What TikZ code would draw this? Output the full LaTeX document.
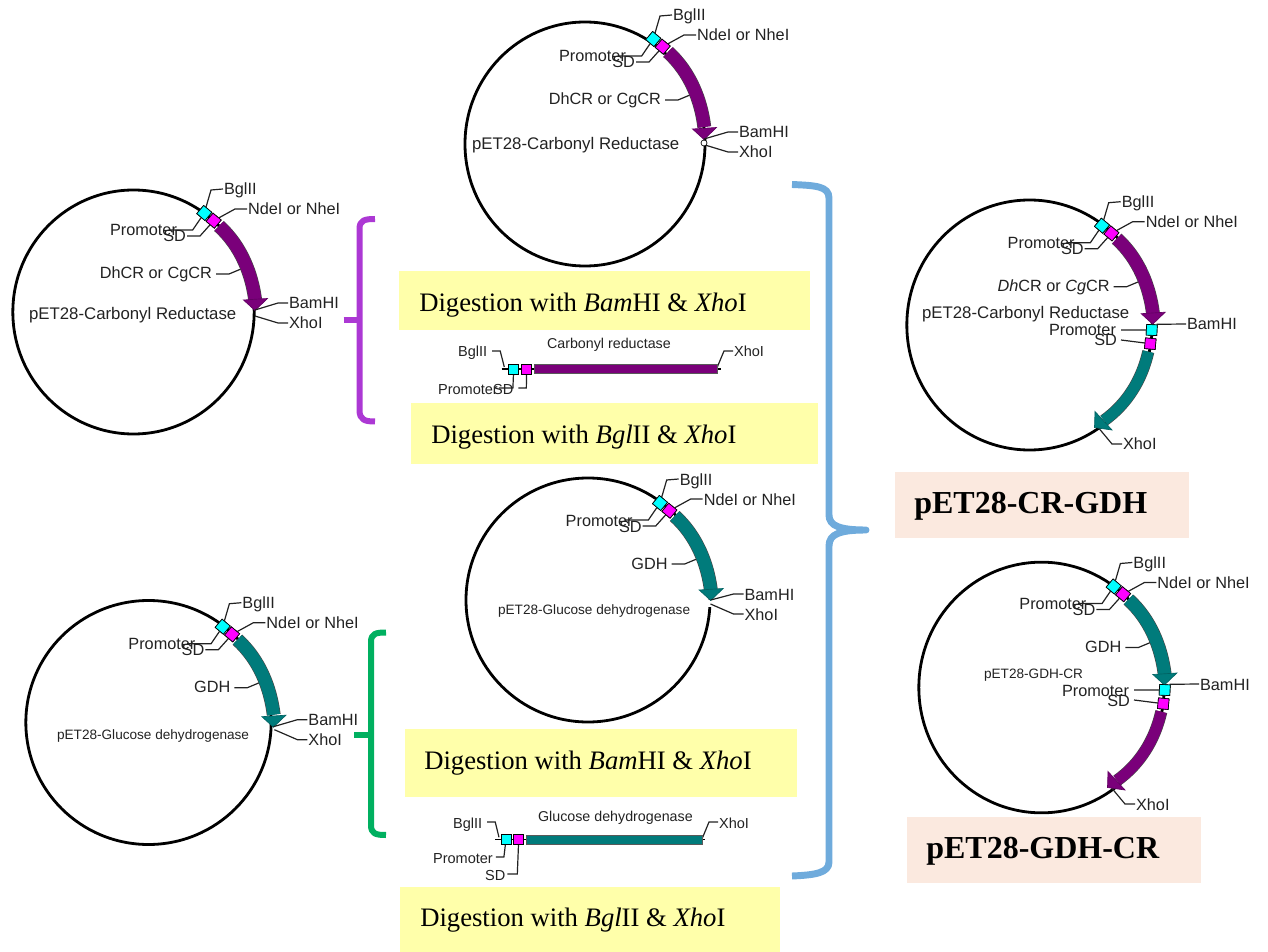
\documentclass[tikz,border=0pt]{standalone}
\usepackage{fontspec}
\usetikzlibrary{shapes.geometric}
\setmainfont{Liberation Sans}
\newfontfamily\tnr{Liberation Serif}
\definecolor{cpurple}{HTML}{7A007A}
\definecolor{cteal}{HTML}{007B7B}
\definecolor{cyellow}{HTML}{FFFFAA}
\definecolor{cpeach}{HTML}{FBE9DF}
\definecolor{cblue}{HTML}{6FABDC}
\definecolor{cviolet}{HTML}{AC38D4}
\definecolor{cgreen}{HTML}{00B060}
\definecolor{ink}{HTML}{222222}
\definecolor{sqcyan}{HTML}{00FFFF}
\definecolor{sqmag}{HTML}{FF00FF}
\tikzset{
  ring/.style={ellipse,draw=black,line width=2.1pt,inner sep=0pt},
  lead/.style={draw=ink,line width=0.9pt},
  lab/.style={inner sep=0.6pt,text=ink,text height=9pt,text depth=0pt,font=\fontsize{12.2}{14}\selectfont},
  labw/.style={lab,anchor=west},
  labe/.style={lab,anchor=east},
  namelab/.style={lab,anchor=west,font=\fontsize{12.6}{14}\selectfont},
  smalllab/.style={lab,anchor=west,font=\fontsize{10.2}{12}\selectfont},
  striplab/.style={lab,anchor=west,font=\fontsize{10.9}{13}\selectfont},
  stripname/.style={lab,anchor=west,font=\fontsize{10.7}{13}\selectfont},
  cysq/.style={draw=black,line width=0.5pt,fill=sqcyan,minimum size=8pt,inner sep=0pt},
  masq/.style={draw=black,line width=0.5pt,fill=sqmag,minimum size=8pt,inner sep=0pt},
  digest/.style={inner sep=0pt,anchor=west,text height=14.5pt,text depth=0pt,text=black,font=\tnr\fontsize{20}{24}\selectfont},
  product/.style={inner sep=0pt,anchor=west,text height=15pt,text depth=0pt,text=black,font=\tnr\bfseries\fontsize{24}{28}\selectfont},
  panel/.style={anchor=north west,inner sep=0pt,draw=none},
  bracket/.style={line cap=butt,line join=round},
  arrowedge/.style={line width=0.5pt,line join=miter}
}
% curved gene arrow body: #1 colour, #2 width of the fill, #3 path
\newcommand{\bodyarrow}[3]{%
  \draw[line width=#2+0.9pt,draw=gray!55!black] #3;
  \draw[line width=#2,draw=#1] #3;
}
% #1 prefix, #2 shift, #3 colour, #4 gene label, #5 head shift
\newcommand{\firstcassette}[5]{%
\begin{scope}[shift={#2}]
  \node[cysq,rotate=-40] (#1cy) at (653.3,39) {};
  \node[masq,rotate=-40] (#1ma) at (662.7,46.7) {};
  \node[labw] (#1bgl) at (672,15) {BglII};
  \node[labw] (#1nde) at (696,35) {NdeI or NheI};
  \node[labe] (#1pro) at (627,56) {Promoter};
  \node[labe] (#1sd) at (636,62) {SD};
  \node[labe] (#1gene) at (662,99) {#4};
  \coordinate (#1gc) at (690,95);
  \begin{scope}[shift={#5}]
    \coordinate (#1tip) at (704,139);
  \end{scope}
  \draw[lead] (#1bgl.west) -- ++(-12,1) -- (#1cy);
  \draw[lead] (#1nde.west) -- ++(-12,0) -- (#1ma);
  \draw[lead] ([xshift=-7pt]#1pro.east) -- ++(24,0) -- (#1cy);
  \draw[lead] (#1sd.east) -- ++(13,0) -- (#1ma);
  \draw[lead] (#1gene.east) ++(3,1) -- ++(13,0) -- (#1gc);
  \node[cysq,rotate=-40] at (#1cy) {};
  \node[masq,rotate=-40] at (#1ma) {};
  \bodyarrow{#3}{9.5pt}{(668,52) .. controls (690,72) and (701,100) .. (704.3,127)}
  \begin{scope}[shift={#5}]
    \filldraw[fill=#3,draw=#3!80!black,arrowedge] (692.5,129) -- (716.5,127.5) -- (704,139.5) -- cycle;
  \end{scope}
\end{scope}}
% labels for the two sites after the gene
\newcommand{\sites}[3]{%
\begin{scope}[shift={#2}]
  \node[labw] (#1bam) at (738,132) {BamHI};
  \node[labw] (#1xho) at (738,152) {XhoI};
  \begin{scope}[shift={#3}]
    \coordinate (#1xe) at (705,145);
  \end{scope}
  \draw[lead] (#1bam.west) -- ++(-10,0) -- (#1tip);
  \draw[lead] (#1xho.west) -- ++(-10,0) -- (#1xe);
\end{scope}}
% second gene cassette, placed in the frame of the upper right plasmid
\newcommand{\secondcassette}[3]{%
\begin{scope}[shift={#2}]
  \node[labe] (#1prob) at (1117,330) {Promoter};
  \node[labe] (#1sdb) at (1118,340) {SD};
  \node[labw] (#1bamb) at (1186,324) {BamHI};
  \node[labw] (#1xhob) at (1122,444) {XhoI};
  \node[cysq,rotate=-3] (#1cyb) at (1151.7,330) {};
  \node[masq,rotate=-5] (#1mab) at (1150.3,343.7) {};
  \coordinate (#1bamc) at (1156.7,324.3);
  \coordinate (#1tipb) at (1097,426);
  \draw[lead] (#1prob.east) ++(4,0) -- (#1cyb);
  \draw[lead] (#1sdb.east) ++(3,0) -- (#1mab);
  \draw[lead] (#1bamb.west) -- (#1bamc);
  \draw[lead] (#1xhob.west) -- ++(-10,0) -- (#1tipb);
  \node[cysq,rotate=-3] at (#1cyb) {};
  \node[masq,rotate=-5] at (#1mab) {};
  \bodyarrow{#3}{8.2pt}{(1148.3,351.7) .. controls (1141.8,380) and (1127,404) .. (1104,420.5)}
  \filldraw[fill=#3,draw=#3!80!black,arrowedge] (1095,411.5) -- (1112,430) -- (1094.5,427.5) -- cycle;
\end{scope}}
\begin{document}
\begin{tikzpicture}[x=0.75pt,y=-0.75pt]
\useasboundingbox (0,0) rectangle (1268,952);
% panels
\node[panel,fill=cyellow,minimum width=308.25pt,minimum height=44.25pt] (y1) at (399,271) {};
\node[panel,fill=cyellow,minimum width=305.25pt,minimum height=45.75pt] (y2) at (411,403) {};
\node[panel,fill=cyellow,minimum width=294pt,minimum height=51pt] (y3) at (405,729) {};
\node[panel,fill=cyellow,minimum width=285pt,minimum height=48.75pt] (y4) at (400,887) {};
\node[panel,fill=cpeach,minimum width=220.5pt,minimum height=49.5pt] (p1) at (895,472) {};
\node[panel,fill=cpeach,minimum width=220.5pt,minimum height=49.5pt] (p2) at (907,817) {};
\node[digest] (t1) at (419,302) {Digestion with \textit{Bam}HI \& \textit{Xho}I};
\node[digest] (t2) at (431,434) {Digestion with \textit{Bgl}II \& \textit{Xho}I};
\node[digest] (t3) at (424,760) {Digestion with \textit{Bam}HI \& \textit{Xho}I};
\node[digest] (t4) at (420,917) {Digestion with \textit{Bgl}II \& \textit{Xho}I};
\node[product] (t5) at (914,503) {pET28-CR-GDH};
\node[product] (t6) at (926,848) {pET28-GDH-CR};
% plasmid rings
\node[ring,minimum width=180pt,minimum height=183pt] (ringA) at (585,144) {};
\node[ring,minimum width=181pt,minimum height=183pt] (ringB) at (133.5,312) {};
\node[ring,minimum width=183pt,minimum height=183pt] (ringC) at (588,600) {};
\node[ring,minimum width=184pt,minimum height=183pt] (ringD) at (148.5,722.5) {};
\node[ring,minimum width=184pt,minimum height=187.5pt] (ringE) at (1029.5,325) {};
\node[ring,minimum width=184pt,minimum height=188pt] (ringF) at (1041.5,687.5) {};
% gap in ring C
\node[fill=white,inner sep=0pt,minimum width=6pt,minimum height=5pt] (gapC) at (710.5,603.5) {};
% cassettes
\firstcassette{A}{(0,0)}{cpurple}{DhCR or CgCR}{(0,0)}
\sites{A}{(0,0)}{(0,0)}
\firstcassette{B}{(-449,174)}{cpurple}{DhCR or CgCR}{(0,-3)}
\sites{B}{(-450,171)}{(0,0)}
\firstcassette{C}{(6.7,464)}{cteal}{GDH}{(0,-3)}
\sites{C}{(5.5,462)}{(0,-3)}
\firstcassette{D}{(-430.6,587.7)}{cteal}{GDH}{(0,0)}
\sites{D}{(-430.6,587.7)}{(0,-3)}
\firstcassette{E}{(448.7,186.7)}{cpurple}{\textit{Dh}CR or \textit{Cg}CR}{(0,-2)}
\firstcassette{F}{(460.4,547.5)}{cteal}{GDH}{(0,-2)}
\secondcassette{G}{(0,0)}{cteal}
\secondcassette{H}{(13,360)}{cpurple}
% restriction site marker on plasmid A
\node[circle,draw=black,fill=white,line width=0.5pt,inner sep=0pt,minimum size=4.5pt] (siteA) at (704,143) {};
% plasmid names
\node[namelab] (nA) at (471,144) {pET28-Carbonyl Reductase};
\node[namelab] (nB) at (28,314) {pET28-Carbonyl Reductase};
\node[smalllab] (nC) at (497,608) {pET28-Glucose dehydrogenase};
\node[smalllab] (nD) at (56,733) {pET28-Glucose dehydrogenase};
\node[namelab] (nE) at (921,313) {pET28-Carbonyl Reductase};
\node[smalllab] (nF) at (983,672) {pET28-GDH-CR};
% linear fragment, carbonyl reductase
\coordinate (s1l) at (501.7,369);
\coordinate (s1r) at (721,369);
\draw[line width=1.4pt,black] (s1l) -- (s1r);
\node[striplab] (s1bgl) at (457,351) {BglII};
\node[striplab] (s1xho) at (733,351) {XhoI};
\node[stripname] (s1name) at (546,343) {Carbonyl reductase};
\node[striplab] (s1pro) at (437,388) {Promoter};
\node[striplab] (s1sd) at (492,388) {SD};
\coordinate (s1bs) at (504.3,367);
\coordinate (s1xs) at (717.3,367);
\node[cysq,minimum size=7.5pt] (s1cy) at (513.7,369) {};
\node[masq,minimum size=7.5pt] (s1ma) at (526.7,369) {};
\draw[lead] (s1bgl.east) ++(4,0) -- ++(8,0) -- (s1bs);
\draw[lead] (s1xho.west) -- ++(-9,0) -- (s1xs);
\draw[lead] (s1pro.east) -- ++(14,0) -- (s1cy);
\draw[lead] (s1sd.east) ++(4,0) -- ++(8,0) -- (s1ma);
\node[cysq,minimum size=7.5pt] at (s1cy) {};
\node[masq,minimum size=7.5pt] at (s1ma) {};
\node[draw=gray!70!black,line width=0.5pt,fill=cpurple,inner sep=0pt,minimum width=137pt,minimum height=7pt,anchor=west] (s1bar) at (534.3,369) {};
% linear fragment, glucose dehydrogenase
\coordinate (s2l) at (495,839.5);
\coordinate (s2r) at (705,839.5);
\draw[line width=1.4pt,black] (s2l) -- (s2r);
\node[striplab] (s2bgl) at (452,822) {BglII};
\node[striplab] (s2xho) at (718,822) {XhoI};
\node[stripname] (s2name) at (537,815) {Glucose dehydrogenase};
\node[striplab] (s2pro) at (432,857) {Promoter};
\node[striplab] (s2sd) at (484,874) {SD};
\coordinate (s2bs) at (499,837.3);
\coordinate (s2xs) at (702.7,837.3);
\node[cysq,minimum size=7.5pt] (s2cy) at (506,839.5) {};
\node[masq,minimum size=7.5pt] (s2ma) at (518.7,839.5) {};
\draw[lead] (s2bgl.east) ++(4,0) -- ++(8,0) -- (s2bs);
\draw[lead] (s2xho.west) -- ++(-9,0) -- (s2xs);
\draw[lead] (s2pro.east) ++(2,0) -- ++(8,0) -- (s2cy);
\draw[lead] (s2sd.east) ++(1,0) -- ++(10,0) -- (s2ma);
\node[cysq,minimum size=7.5pt] at (s2cy) {};
\node[masq,minimum size=7.5pt] at (s2ma) {};
\node[draw=gray!70!black,line width=0.5pt,fill=cteal,inner sep=0pt,minimum width=132pt,minimum height=7pt,anchor=west] (s2bar) at (526,839.5) {};
% brackets
\draw[bracket,draw=cviolet,line width=4.5pt] (375,219) .. controls (365,219) and (359.5,220) .. (359.5,229) -- (359.5,410) .. controls (359.5,420) and (365,421.5) .. (375,421.5);
\draw[bracket,draw=cviolet,line width=4.5pt] (343.5,320.5) -- (359.5,320.5);
\draw[bracket,draw=cgreen,line width=4.5pt] (386,632.5) .. controls (376,632.5) and (371,633.5) .. (371,642) -- (371,825) .. controls (371,834) and (376,835) .. (386,835);
\draw[bracket,draw=cgreen,line width=4.5pt] (354,735) -- (371,735);
\draw[bracket,draw=cblue,line width=5.2pt] (792,184.5) .. controls (815,185.5) and (829,186) .. (829,198) -- (829,515) .. controls (829,526) and (840,530) .. (866,530) .. controls (840,530) and (829,534) .. (829,546) -- (829,862) .. controls (829,873) and (815,875) .. (792,876);
\end{tikzpicture}
\end{document}
